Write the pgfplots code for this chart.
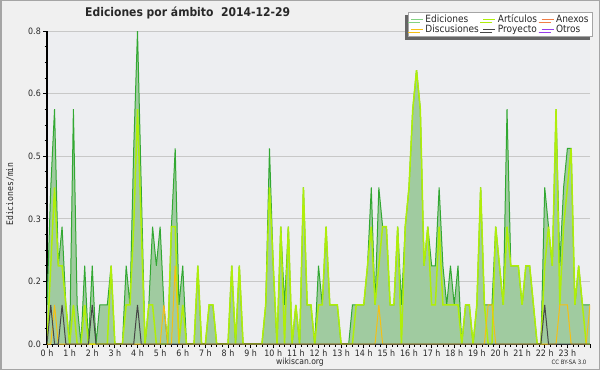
\documentclass[border=0pt]{standalone}
\usepackage{fontspec}
\setmainfont{DejaVu Sans}[FakeStretch=0.9]
\newfontfamily\monof{DejaVu Sans Mono}[FakeStretch=0.9]
\usepackage{pgfplots}
\usepackage{pgfplotstable}
\pgfplotsset{compat=1.18}
\usetikzlibrary{shadows}
\definecolor{bgc}{RGB}{240,240,240}
\definecolor{plotbg}{RGB}{237,238,241}
\definecolor{framec}{RGB}{165,165,165}
\definecolor{gridc}{RGB}{200,200,200}
\definecolor{areagreen}{RGB}{160,203,160}
\definecolor{edgreen}{RGB}{50,168,50}
\definecolor{legEd}{RGB}{130,210,130}
\definecolor{limec}{RGB}{175,238,10}
\definecolor{discc}{RGB}{245,192,20}
\definecolor{proyc}{RGB}{70,70,70}
\definecolor{anexc}{RGB}{240,125,70}
\definecolor{otrosc}{RGB}{150,60,235}
\definecolor{txtc}{RGB}{40,40,40}
\pgfplotsset{layers/mylayers/.define layer set={axis background, axis grid, pre main, main, axis ticks, axis lines, axis tick labels, axis descriptions, axis foreground}{}}
\pgfplotstableread{
i E A D P
0 0.1 0 0 0
1 0.4 0.2 0 0.1
2 0.6 0.4 0.1 0
3 0.2 0.2 0 0
4 0.3 0.2 0 0.1
5 0.1 0.1 0 0
6 0 0 0 0
7 0.6 0.1 0 0
8 0.1 0 0 0
9 0 0 0 0
10 0.2 0.1 0 0
11 0 0 0 0
12 0.2 0 0 0.1
13 0 0 0 0
14 0.1 0 0 0
15 0.1 0 0 0
16 0.1 0 0 0
17 0.2 0.2 0 0
18 0 0 0 0
19 0 0 0 0
20 0 0 0 0
21 0.2 0.1 0 0
22 0.1 0.1 0 0
23 0.5 0.3 0 0
24 0.8 0.6 0 0.1
25 0.4 0.3 0 0
26 0 0 0 0
27 0.1 0.1 0 0
28 0.3 0.1 0 0
29 0.2 0 0 0
30 0.3 0 0 0
31 0.1 0 0.1 0
32 0 0 0 0
33 0.3 0.3 0 0
34 0.5 0.3 0.2 0
35 0.1 0 0 0
36 0.2 0.1 0 0
37 0 0 0 0
38 0 0 0 0
39 0 0 0 0
40 0.2 0.2 0 0
41 0 0 0 0
42 0 0 0 0
43 0.1 0.1 0 0
44 0.1 0.1 0 0
45 0 0 0 0
46 0 0 0 0
47 0 0 0 0
48 0 0 0 0
49 0.2 0.2 0 0
50 0 0 0 0
51 0.2 0.2 0 0
52 0 0 0 0
53 0 0 0 0
54 0 0 0 0
55 0 0 0 0
56 0 0 0 0
57 0 0 0 0
58 0.1 0.1 0 0
59 0.5 0.4 0 0
60 0.2 0.2 0 0
61 0 0 0 0
62 0.3 0.3 0 0
63 0.1 0 0 0
64 0.3 0.3 0 0
65 0 0 0 0
66 0.1 0.1 0 0
67 0 0 0 0
68 0.4 0.4 0 0
69 0.1 0.1 0 0
70 0.1 0.1 0 0
71 0 0 0 0
72 0.2 0.1 0 0
73 0.1 0.1 0 0
74 0.3 0.3 0 0
75 0.1 0.1 0 0
76 0.1 0.1 0 0
77 0.1 0.1 0 0
78 0 0 0 0
79 0 0 0 0
80 0 0 0 0
81 0.1 0 0 0
82 0.1 0.1 0 0
83 0.1 0.1 0 0
84 0.1 0.1 0 0
85 0.2 0.2 0 0
86 0.4 0.3 0 0
87 0.1 0.1 0 0
88 0.4 0.2 0.1 0
89 0.3 0.3 0 0
90 0.3 0.3 0 0
91 0.1 0.1 0 0
92 0.1 0.1 0 0
93 0.3 0.3 0 0
94 0.1 0 0 0
95 0.3 0.3 0 0
96 0.4 0.4 0 0
97 0.6 0.6 0 0
98 0.7 0.7 0 0
99 0.6 0.6 0 0
100 0.2 0.2 0 0
101 0.3 0.3 0 0
102 0.2 0.1 0 0
103 0.2 0.1 0 0
104 0.4 0.3 0 0
105 0.2 0.1 0 0
106 0.1 0.1 0 0
107 0.2 0.1 0 0
108 0.1 0.1 0 0
109 0.2 0.1 0 0
110 0 0 0 0
111 0.1 0.1 0 0
112 0.1 0.1 0 0
113 0 0 0 0
114 0.1 0.1 0 0
115 0.4 0.4 0 0
116 0.1 0.1 0 0
117 0.1 0 0.1 0
118 0.1 0 0.1 0
119 0.3 0.3 0 0
120 0.2 0.2 0 0
121 0.1 0.1 0 0
122 0.6 0.3 0 0
123 0.2 0.2 0 0
124 0.2 0.2 0 0
125 0.2 0.2 0 0
126 0.1 0.1 0 0
127 0.2 0.2 0 0
128 0.2 0.2 0 0
129 0.1 0.1 0 0
130 0 0 0 0
131 0 0 0 0
132 0.4 0.2 0 0.1
133 0.3 0.3 0 0
134 0.2 0.2 0 0
135 0.6 0.6 0 0
136 0.2 0.1 0.1 0
137 0.4 0.3 0.1 0
138 0.5 0.4 0.1 0
139 0.5 0.5 0 0
140 0.1 0.1 0 0
141 0.2 0.2 0 0
142 0.1 0.1 0 0
143 0.1 0 0 0
144 0.1 0 0.1 0
}\data
\begin{document}
\begin{tikzpicture}[x=1pt,y=1pt]
\fill[bgc] (0,0) rectangle (600,370);
\draw[framec, line width=1.5pt] (0.75,0.75) rectangle (599.25,369.25);
\begin{axis}[
  set layers=mylayers,
  at={(47pt,26pt)}, anchor=south west,
  width=543pt, height=313pt, scale only axis,
  xmin=0, xmax=24, ymin=0, ymax=0.8,
  axis x line*=bottom, axis y line*=left,
  axis line style={black, line width=1.6pt, -},
  axis background/.style={fill=plotbg},
  xtick={0,...,24},
  xticklabels={0 h,1 h,2 h,3 h,4 h,5 h,6 h,7 h,8 h,9 h,10 h,11 h,12 h,13 h,14 h,15 h,16 h,17 h,18 h,19 h,20 h,21 h,22 h,23 h,},
  minor x tick num=3,
  ytick={0,0.16,0.32,0.48,0.64,0.8},
  yticklabels={0.0,0.2,0.3,0.5,0.6,0.8},
  minor y tick num=3,
  tick align=outside,
  major tick length=4pt, minor tick length=2.5pt,
  every tick/.style={black, line width=0.8pt},
  ymajorgrids, grid style={gridc, line width=0.8pt},
  ticklabel style={font=\fontsize{8.8}{10}\selectfont, text=txtc},
  xticklabel style={inner sep=1.5pt},
  yticklabel style={inner sep=2pt},
  legend columns=3,
  legend cell align=left,
  legend image code/.code={\draw[#1, line width=1pt] (0pt,0pt) -- (12pt,0pt);},
  legend style={at={(rel axis cs:1.0055,1.062)}, anchor=north east,
    draw=framec, line width=0.8pt, fill=white, text=txtc,
    font=\fontsize{10}{10}\selectfont, inner xsep=2pt, inner ysep=0.5pt,
    row sep=-3pt,
    drop shadow={shadow xshift=-3pt, shadow yshift=-3pt, fill=black!60, opacity=1},
    /tikz/every even column/.append style={column sep=2pt}},
]
\addplot[fill=areagreen, draw=none, forget plot] table[x expr=\thisrow{i}/6, y=E] {\data} \closedcycle;
\addplot[draw=edgreen, line width=1pt, forget plot] table[x expr=\thisrow{i}/6, y=E] {\data};
\addplot[draw=limec, line width=1.5pt, forget plot] table[x expr=\thisrow{i}/6, y=A] {\data};
\addplot[draw=discc, line width=1pt, forget plot] table[x expr=\thisrow{i}/6, y=D] {\data};
\addplot[draw=proyc, line width=1pt, forget plot] table[x expr=\thisrow{i}/6, y=P] {\data};
\addlegendimage{legEd}\addlegendentry{Ediciones}
\addlegendimage{limec}\addlegendentry{Artículos}
\addlegendimage{anexc}\addlegendentry{Anexos}
\addlegendimage{discc}\addlegendentry{Discusiones}
\addlegendimage{proyc}\addlegendentry{Proyecto}
\addlegendimage{otrosc}\addlegendentry{Otros}
\end{axis}
\node[anchor=west, font=\bfseries\fontsize{12}{14}\selectfont, text=txtc, inner sep=0pt] at (85,357) {Ediciones por ámbito\ \ 2014-12-29};
\node[rotate=90, font=\monof\fontsize{9}{10}\selectfont, text=txtc] at (10,176) {Ediciones/min};
\node[font=\fontsize{8.5}{9}\selectfont, text=txtc] at (300,8) {wikiscan.org};
\node[font=\fontsize{6}{7}\selectfont, text=txtc] at (569,8) {CC BY-SA 3.0};
\end{tikzpicture}
\end{document}
